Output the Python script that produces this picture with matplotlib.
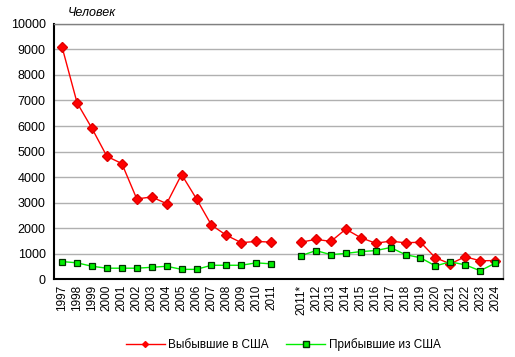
import numpy as np
import matplotlib
matplotlib.use("Agg")
import matplotlib.pyplot as plt

plt.rcParams['font.family'] = ['Liberation Sans', 'DejaVu Sans']

# years, with a gap between the two 2011 columns
years_a = ["1997", "1998", "1999", "2000", "2001", "2002", "2003", "2004",
           "2005", "2006", "2007", "2008", "2009", "2010", "2011"]
years_b = ["2011*", "2012", "2013", "2014", "2015", "2016", "2017", "2018",
           "2019", "2020", "2021", "2022", "2023", "2024"]

left_a = [9085, 6910, 5905, 4810, 4530, 3145, 3220, 2960, 4100, 3145,
          2120, 1720, 1430, 1480, 1450]
left_b = [1450, 1560, 1480, 1960, 1625, 1410, 1490, 1425, 1450, 840,
          600, 880, 720, 730]

arr_a = [690, 640, 505, 430, 430, 430, 465, 505, 385, 385,
         545, 545, 545, 640, 600]
arr_b = [920, 1120, 960, 1010, 1080, 1120, 1240, 960, 840, 520,
         680, 560, 330, 625]

x_a = np.arange(len(years_a))
x_b = np.arange(len(years_b)) + len(years_a) + 1

fig = plt.figure(figsize=(5.15, 3.57), dpi=100)
ax = fig.add_axes([0.105, 0.218, 0.872, 0.715])

red_kw = dict(color='#ff0000', lw=1, marker='D', ms=5.5,
              mfc='#ff0000', mec='#e00000', zorder=3)
grn_kw = dict(color='#00ee00', lw=1, marker='s', ms=5,
              mfc='#00ee00', mec='#003000', mew=0.9, zorder=3)

ax.plot(x_a, left_a, **red_kw)
ax.plot(x_b, left_b, **red_kw)
ax.plot(x_a, arr_a, **grn_kw)
ax.plot(x_b, arr_b, **grn_kw)

ax.set_ylim(0, 10000)
ax.set_xlim(-0.54, x_b[-1] + 0.54)
ax.set_yticks(np.arange(0, 10001, 1000))
ax.yaxis.grid(True, color='#b0b0b0', lw=1)
ax.set_axisbelow(True)
ax.set_xticks(list(x_a) + list(x_b))
ax.set_xticklabels(years_a + years_b, rotation=90, fontsize=8.5)
ax.tick_params(axis='y', labelsize=9, length=0, pad=6)
ax.tick_params(axis='x', length=0, pad=4)

for s in ['left', 'bottom']:
    ax.spines[s].set_color('black')
    ax.spines[s].set_linewidth(1.5)
for s in ['top', 'right']:
    ax.spines[s].set_color('#808080')
    ax.spines[s].set_linewidth(1)

fig.text(0.132, 0.955, "Человек", fontsize=9, style='italic')

h1, = ax.plot([], [], color='#ff0000', lw=1, marker='D', ms=3,
              mfc='#ff0000', mec='#ff0000')
h2, = ax.plot([], [], color='#00ee00', lw=1, marker='s', ms=4,
              mfc='#00ee00', mec='#003000')
fig.legend([h1, h2], ["Выбывшие в США", "Прибывшие из США"],
           loc='center', bbox_to_anchor=(0.55, 0.035), ncol=2, frameon=False,
           fontsize=8.5, handlelength=3.3, columnspacing=1.5, handletextpad=0.3)

fig.savefig("out.png", dpi=100)
